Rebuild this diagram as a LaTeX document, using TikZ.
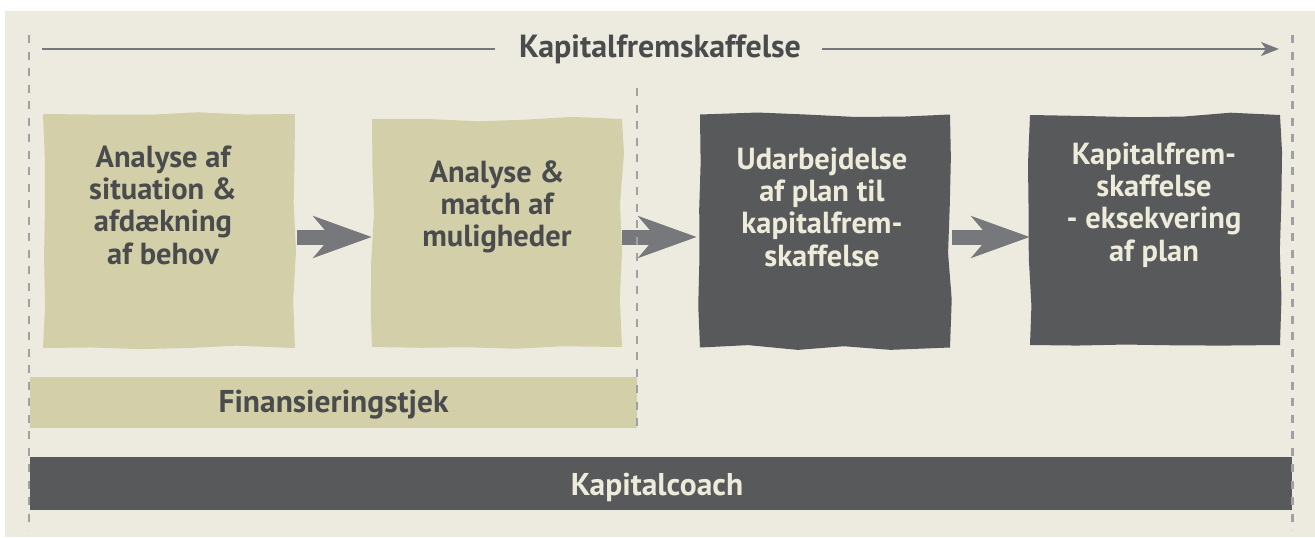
\documentclass[tikz,border=0pt]{standalone}
\usepackage{fontspec}
\setmainfont{PT Sans}
\usetikzlibrary{arrows.meta,decorations.pathmorphing,calc}
\definecolor{bgc}{HTML}{EDEBDF}
\definecolor{khaki}{HTML}{D3CFA9}
\definecolor{darkbox}{HTML}{58595B}
\definecolor{txtdark}{HTML}{4A4B4D}
\definecolor{txtlight}{HTML}{EDEBDA}
\definecolor{arrowc}{HTML}{77787B}
\definecolor{dashc}{HTML}{A0A1A3}
\begin{document}
\pgfmathsetseed{7}
\begin{tikzpicture}[x=1pt,y=-1pt,
  rough/.style={decorate,decoration={random steps,segment length=48pt,amplitude=2.4pt},
    inner sep=0pt,minimum width=250pt,minimum height=230pt},
  lightbox/.style={rough,fill=khaki},
  darkbx/.style={rough,fill=darkbox},
  boxfont/.style={font=\bfseries\fontsize{30.5}{32.3}\selectfont,align=center,inner sep=0pt},
  ltext/.style={boxfont,text=txtdark},
  dtext/.style={boxfont,text=txtlight},
  blockarrow/.style={draw=arrowc,line width=15pt,-{Stealth[length=58pt,width=41pt,inset=17pt]}},
  guide/.style={draw=dashc,line width=2.2pt,dash pattern=on 8pt off 8.5pt},
  midguide/.style={draw=dashc,line width=1.6pt,dash pattern=on 8pt off 8.5pt},
  barfont/.style={font=\bfseries\fontsize{31.5}{34}\selectfont,inner sep=0pt},
  titlefont/.style={font=\bfseries\fontsize{32}{34}\selectfont,inner sep=0pt}
]
\useasboundingbox (0,0) rectangle (1315,538);
\fill[white] (0,0) rectangle (1315,538);
\fill[bgc] (5,11) rectangle (1315,537);

% title line
\node[titlefont,text=txtdark] (title) at (660,49) {Kapitalfremskaffelse};
\coordinate (ls) at (42,49);
\coordinate (le) at (1279,49);
\coordinate (lm1) at (495,49);
\coordinate (lm2) at (822,49);
\draw[arrowc,line width=2.2pt] (ls) -- (lm1);
\draw[arrowc,line width=2.2pt,-{Stealth[length=18pt,width=14pt,inset=5pt]}] (lm2) -- (le);

% boxes
\node[lightbox,minimum width=252pt,minimum height=234pt] (b1) at (169,231) {};
\node[lightbox,minimum width=250pt,minimum height=228pt] (b2) at (497,233) {};
\node[darkbx,minimum width=250pt,minimum height=233pt] (b3) at (825,231) {};
\node[darkbx,minimum width=250pt,minimum height=230pt] (b4) at (1155,230) {};

\node[ltext] (t1) at (163,205) {Analyse af\\situation \&\\afdækning\\af behov};
\node[ltext] (t2) at (497,207) {Analyse \&\\match af\\muligheder};
\node[dtext] (t3) at (822,207) {Udarbejdelse\\af plan til\\kapitalfrem-\\skaffelse};
\node[dtext] (t4) at (1154,205) {Kapitalfrem-\\skaffelse\\- eksekvering\\af plan};

% arrows
\draw[blockarrow] ([xshift=2pt,yshift=-6pt]b1.east) -- ([yshift=-6pt]b1.east -| b2.west);
\draw[blockarrow] ([yshift=-4pt]b2.east) -- ([yshift=-4pt,xshift=-3pt]b2.east -| b3.west);
\draw[blockarrow] ([xshift=2pt,yshift=-6pt]b3.east) -- ([yshift=-6pt]b3.east -| b4.west);

% bars
\node[fill=khaki,minimum width=607pt,minimum height=51pt,inner sep=0pt] (fin) at (333.5,402.5) {};
\node[barfont,text=txtdark] (fint) at (333.5,405) {Finansieringstjek};
\node[fill=darkbox,minimum width=1262pt,minimum height=53pt,inner sep=0pt] (kap) at (661,483.5) {};
\node[barfont,text=txtlight] (kapt) at (657,487) {Kapitalcoach};

% guides
\coordinate (gl1) at (29,35); \coordinate (gl2) at (29,530);
\coordinate (gr1) at (1292.5,35); \coordinate (gr2) at (1292.5,530);
\coordinate (gm1) at (637,88); \coordinate (gm2) at (637,428);
\draw[guide] (gl1) -- (gl2);
\draw[guide] (gr1) -- (gr2);
\draw[midguide] (gm1) -- (gm2);
\end{tikzpicture}
\end{document}
